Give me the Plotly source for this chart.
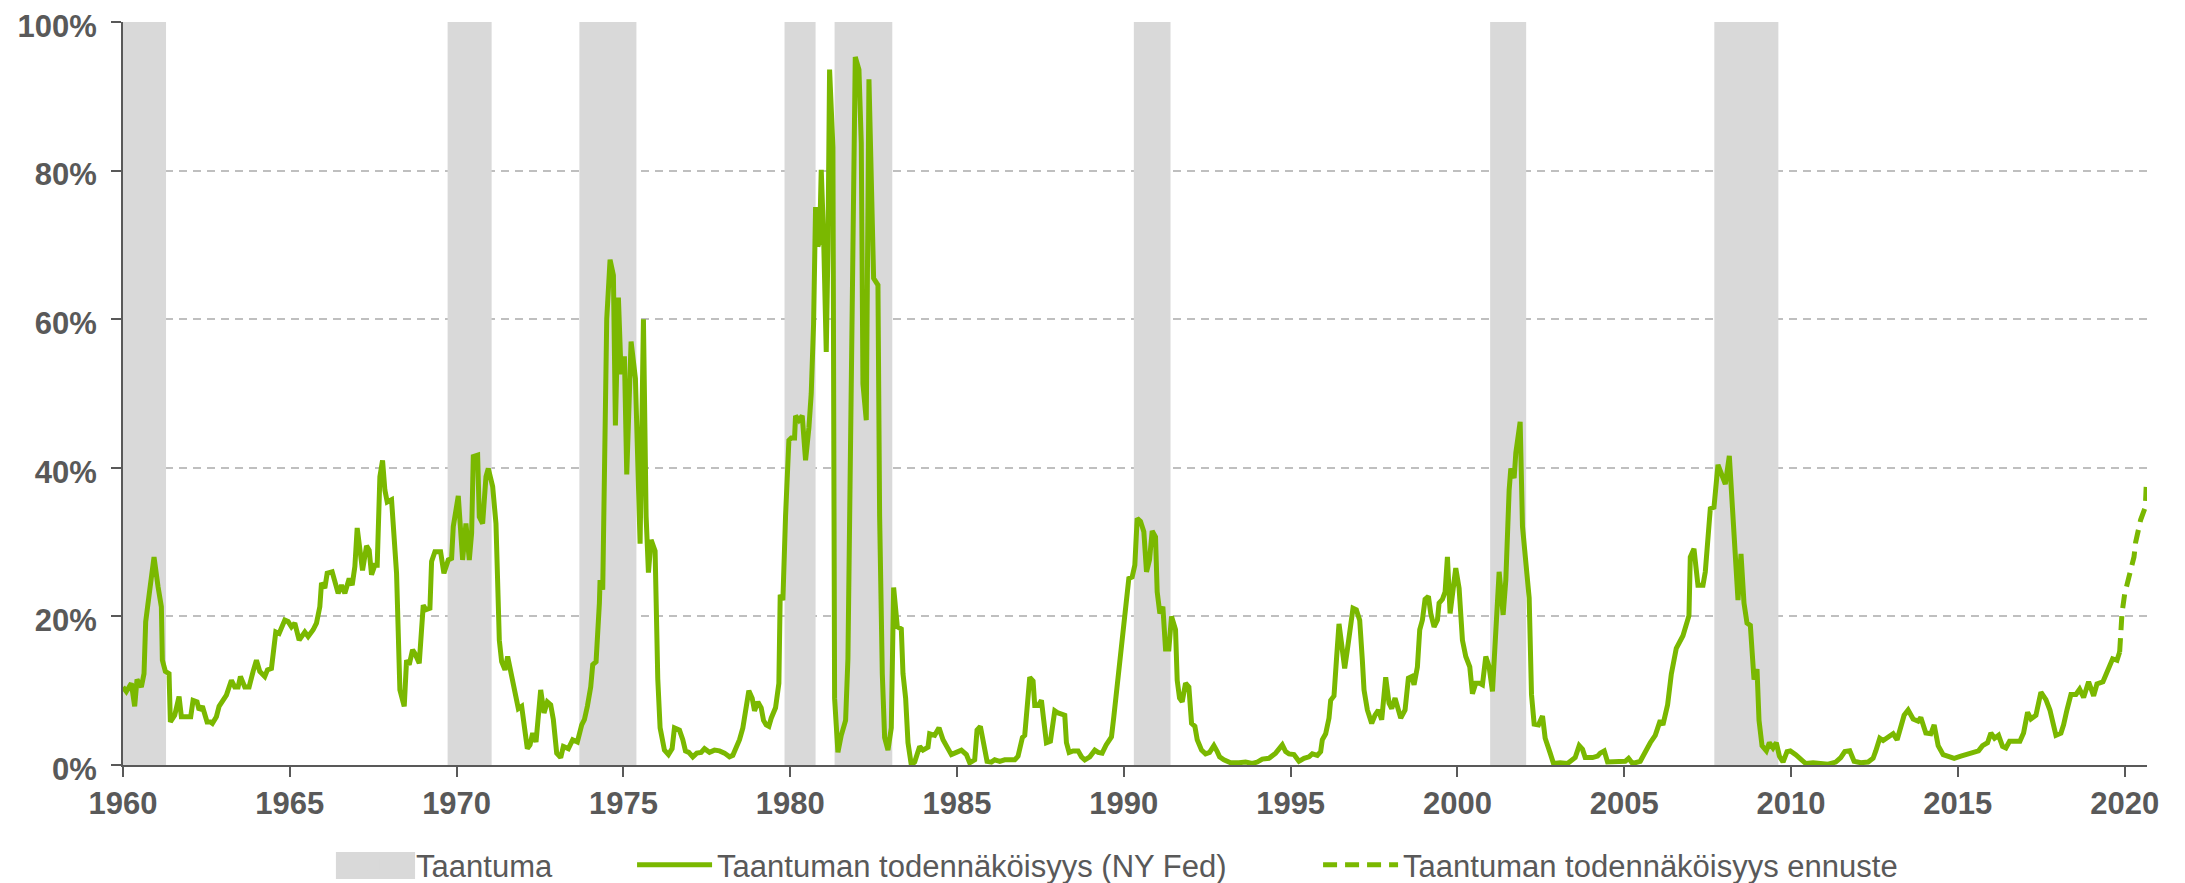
import plotly.graph_objects as go

# ---------------- data ----------------
prob_year = [
    1960.00, 1960.10, 1960.25, 1960.35, 1960.42, 1960.55, 1960.63, 1960.68, 1960.80, 1960.93,
    1961.05, 1961.15, 1961.18, 1961.27, 1961.38, 1961.42, 1961.55, 1961.68, 1961.75, 1961.90,
    1962.03, 1962.10, 1962.22, 1962.28, 1962.38, 1962.52, 1962.62, 1962.68, 1962.80, 1962.88,
    1963.02, 1963.10, 1963.25, 1963.35, 1963.45, 1963.52, 1963.65, 1963.78, 1963.90, 1964.00,
    1964.10, 1964.25, 1964.33, 1964.45, 1964.58, 1964.68, 1964.85, 1964.95, 1965.05, 1965.15,
    1965.28, 1965.45, 1965.55, 1965.70, 1965.80, 1965.90, 1965.95, 1966.05, 1966.12, 1966.27,
    1966.45, 1966.55, 1966.65, 1966.78, 1966.87, 1966.95, 1967.02, 1967.10, 1967.18, 1967.30,
    1967.38, 1967.45, 1967.55, 1967.62, 1967.70, 1967.78, 1967.85, 1967.92, 1968.05, 1968.20,
    1968.30, 1968.43, 1968.50, 1968.58, 1968.68, 1968.75, 1968.88, 1969.00, 1969.08, 1969.20,
    1969.25, 1969.35, 1969.52, 1969.62, 1969.75, 1969.85, 1969.90, 1970.05, 1970.18, 1970.28,
    1970.38, 1970.45, 1970.50, 1970.63, 1970.68, 1970.78, 1970.88, 1970.95, 1971.08, 1971.18,
    1971.28, 1971.35, 1971.45, 1971.53, 1971.65, 1971.75, 1971.85, 1971.95, 1972.12, 1972.20,
    1972.28, 1972.38, 1972.52, 1972.62, 1972.72, 1972.82, 1972.90, 1973.00, 1973.12, 1973.20,
    1973.35, 1973.48, 1973.62, 1973.75, 1973.83, 1973.92, 1974.02, 1974.08, 1974.18, 1974.28,
    1974.30, 1974.38, 1974.43, 1974.50, 1974.60, 1974.70, 1974.76, 1974.85, 1974.93, 1975.03,
    1975.10, 1975.23, 1975.36, 1975.50, 1975.60, 1975.68, 1975.75, 1975.83, 1975.95, 1976.03,
    1976.10, 1976.23, 1976.35, 1976.46, 1976.53, 1976.68, 1976.78, 1976.86, 1976.96, 1977.08,
    1977.20, 1977.33, 1977.43, 1977.58, 1977.73, 1977.88, 1978.03, 1978.18, 1978.28, 1978.38,
    1978.48, 1978.58, 1978.68, 1978.76, 1978.86, 1978.93, 1979.03, 1979.13, 1979.20, 1979.28,
    1979.36, 1979.43, 1979.56, 1979.66, 1979.70, 1979.78, 1979.86, 1979.96, 1980.03, 1980.13,
    1980.16, 1980.26, 1980.36, 1980.46, 1980.56, 1980.63, 1980.70, 1980.76, 1980.83, 1980.88,
    1980.93, 1981.00, 1981.08, 1981.13, 1981.18, 1981.28, 1981.33, 1981.43, 1981.53, 1981.66,
    1981.73, 1981.80, 1981.88, 1981.95, 1982.06, 1982.13, 1982.18, 1982.28, 1982.36, 1982.43,
    1982.50, 1982.63, 1982.68, 1982.76, 1982.83, 1982.93, 1983.03, 1983.10, 1983.21, 1983.33,
    1983.38, 1983.46, 1983.53, 1983.63, 1983.73, 1983.88, 1983.98, 1984.13, 1984.18, 1984.33,
    1984.46, 1984.58, 1984.73, 1984.83, 1984.98, 1985.13, 1985.28, 1985.38, 1985.53, 1985.60,
    1985.70, 1985.80, 1985.90, 1986.03, 1986.13, 1986.28, 1986.43, 1986.58, 1986.73, 1986.83,
    1986.96, 1987.03, 1987.11, 1987.18, 1987.28, 1987.33, 1987.43, 1987.53, 1987.60, 1987.68,
    1987.80, 1987.93, 1988.03, 1988.13, 1988.23, 1988.28, 1988.36, 1988.48, 1988.63, 1988.73,
    1988.83, 1988.98, 1989.13, 1989.23, 1989.35, 1989.47, 1989.63, 1989.70, 1989.80, 1989.93,
    1990.05, 1990.15, 1990.25, 1990.33, 1990.40, 1990.50, 1990.60, 1990.68, 1990.77, 1990.85,
    1990.95, 1991.00, 1991.08, 1991.17, 1991.25, 1991.35, 1991.43, 1991.55, 1991.60, 1991.67,
    1991.75, 1991.85, 1991.95, 1992.03, 1992.13, 1992.20, 1992.33, 1992.45, 1992.57, 1992.70,
    1992.80, 1992.87, 1993.00, 1993.20, 1993.45, 1993.65, 1993.85, 1994.00, 1994.15, 1994.35,
    1994.55, 1994.65, 1994.75, 1994.85, 1994.95, 1995.10, 1995.25, 1995.40, 1995.55, 1995.65,
    1995.80, 1995.90, 1995.95, 1996.05, 1996.15, 1996.20, 1996.30, 1996.38, 1996.45, 1996.53,
    1996.62, 1996.70, 1996.80, 1996.87, 1996.97, 1997.07, 1997.15, 1997.20, 1997.30, 1997.43,
    1997.53, 1997.63, 1997.73, 1997.85, 1997.95, 1998.03, 1998.13, 1998.22, 1998.30, 1998.43,
    1998.53, 1998.63, 1998.70, 1998.80, 1998.87, 1998.95, 1999.03, 1999.13, 1999.20, 1999.30,
    1999.40, 1999.45, 1999.55, 1999.63, 1999.70, 1999.78, 1999.87, 1999.95, 2000.05, 2000.15,
    2000.25, 2000.37, 2000.45, 2000.55, 2000.67, 2000.75, 2000.85, 2000.95, 2001.05, 2001.15,
    2001.25, 2001.37, 2001.45, 2001.55, 2001.60, 2001.70, 2001.75, 2001.88, 2001.95, 2002.15,
    2002.22, 2002.30, 2002.43, 2002.55, 2002.63, 2002.78, 2002.88, 2003.08, 2003.30, 2003.53,
    2003.65, 2003.75, 2003.83, 2004.05, 2004.20, 2004.28, 2004.40, 2004.50, 2004.80, 2005.03,
    2005.13, 2005.25, 2005.48, 2005.63, 2005.78, 2005.93, 2006.08, 2006.16, 2006.30, 2006.41,
    2006.56, 2006.76, 2006.94, 2006.98, 2007.09, 2007.21, 2007.36, 2007.43, 2007.58, 2007.69,
    2007.81, 2007.93, 2008.03, 2008.15, 2008.29, 2008.41, 2008.50, 2008.59, 2008.68, 2008.78,
    2008.89, 2008.98, 2009.04, 2009.13, 2009.26, 2009.35, 2009.46, 2009.56, 2009.65, 2009.76,
    2009.88, 2009.98, 2010.14, 2010.29, 2010.44, 2010.66, 2010.89, 2011.11, 2011.34, 2011.49,
    2011.61, 2011.76, 2011.89, 2012.09, 2012.31, 2012.46, 2012.54, 2012.66, 2012.76, 2012.91,
    2013.06, 2013.18, 2013.29, 2013.39, 2013.51, 2013.66, 2013.81, 2013.89, 2014.04, 2014.19,
    2014.29, 2014.41, 2014.56, 2014.71, 2014.89, 2015.09, 2015.24, 2015.47, 2015.62, 2015.74,
    2015.89, 2015.99, 2016.10, 2016.22, 2016.34, 2016.44, 2016.55, 2016.67, 2016.79, 2016.86,
    2016.97, 2017.09, 2017.19, 2017.34, 2017.49, 2017.64, 2017.76, 2017.94, 2018.09, 2018.17,
    2018.27, 2018.39, 2018.54, 2018.65, 2018.77, 2018.92, 2019.07, 2019.17, 2019.35, 2019.52,
    2019.64, 2019.77, 2019.85,
]
prob_pct = [
    10.5, 9.9, 11.0, 7.9, 11.5, 10.5, 12.3, 19.3, 23.5, 28.0,
    24.0, 21.3, 14.1, 12.6, 12.3, 5.8, 6.7, 9.2, 6.5, 6.5,
    6.5, 8.7, 8.5, 7.4, 7.9, 5.8, 5.8, 5.6, 6.5, 7.9,
    9.0, 9.4, 11.4, 10.5, 10.5, 11.9, 10.5, 10.5, 12.6, 14.1,
    12.6, 11.9, 12.8, 13.0, 17.9, 17.7, 19.5, 19.3, 18.6, 19.1,
    16.8, 17.9, 17.3, 18.2, 19.1, 21.3, 24.5, 23.8, 25.8, 26.0,
    23.1, 24.2, 23.1, 25.1, 24.2, 26.7, 31.9, 29.4, 26.2, 29.5,
    28.9, 25.6, 26.9, 26.9, 38.8, 41.0, 37.0, 35.4, 35.7, 25.8,
    10.1, 7.9, 14.1, 13.5, 15.5, 15.0, 13.7, 21.5, 20.9, 21.1,
    27.4, 28.7, 28.7, 25.8, 27.6, 27.8, 32.1, 36.2, 27.6, 32.5,
    27.6, 31.2, 41.5, 41.7, 33.4, 32.5, 38.8, 39.9, 37.5, 32.5,
    16.8, 13.9, 12.8, 14.6, 11.9, 9.6, 7.6, 7.9, 2.2, 2.7,
    4.3, 3.1, 10.1, 7.0, 8.5, 8.1, 6.1, 1.6, 1.0, 2.5,
    2.2, 3.4, 3.1, 5.4, 6.1, 7.9, 10.5, 13.5, 13.9, 21.8,
    24.9, 23.6, 43.0, 60.0, 68.0, 65.9, 45.7, 62.9, 52.6, 55.0,
    39.1, 57.0, 52.0, 29.8, 60.0, 33.5, 25.9, 30.3, 28.8, 11.6,
    5.0, 2.0, 1.4, 2.2, 5.0, 4.7, 3.4, 1.9, 1.7, 1.1,
    1.6, 1.7, 2.2, 1.7, 2.0, 1.9, 1.6, 1.1, 1.3, 2.4,
    3.4, 5.0, 8.0, 10.0, 9.0, 7.3, 8.5, 7.7, 6.0, 5.4,
    5.2, 6.3, 7.7, 11.0, 22.9, 22.2, 33.5, 43.7, 44.0, 44.0,
    47.0, 46.4, 47.0, 41.0, 45.4, 50.0, 59.3, 75.1, 69.8, 70.5,
    80.1, 71.2, 55.6, 69.2, 93.6, 83.1, 9.0, 1.7, 4.0, 6.0,
    14.3, 40.0, 73.0, 95.3, 93.6, 83.7, 51.3, 46.4, 92.3, 77.8,
    65.5, 64.6, 33.5, 12.3, 3.7, 2.0, 5.0, 23.9, 18.6, 18.3,
    12.3, 9.0, 3.0, 0.0, 0.4, 2.5, 2.0, 2.4, 4.2, 4.0,
    5.0, 3.4, 2.2, 1.4, 1.7, 2.0, 1.4, 0.3, 0.7, 4.7,
    5.2, 2.4, 0.5, 0.4, 0.7, 0.5, 0.7, 0.7, 0.7, 1.2,
    3.7, 4.0, 8.0, 11.8, 11.3, 8.0, 8.0, 8.7, 6.0, 3.0,
    3.2, 7.3, 7.0, 6.9, 6.7, 3.0, 1.7, 1.9, 1.9, 1.1,
    0.7, 1.1, 2.0, 1.7, 1.6, 2.7, 3.8, 6.5, 10.5, 15.9,
    21.8, 25.1, 25.3, 26.9, 33.2, 32.8, 31.4, 26.0, 27.6, 31.5,
    30.7, 23.3, 20.4, 21.3, 15.6, 15.6, 20.0, 18.2, 11.4, 9.0,
    8.5, 11.0, 10.5, 5.6, 5.2, 3.4, 2.0, 1.5, 1.7, 2.6,
    1.8, 1.1, 0.7, 0.3, 0.3, 0.4, 0.2, 0.4, 0.8, 0.9,
    1.6, 2.2, 2.7, 1.8, 1.5, 1.4, 0.5, 0.9, 1.1, 1.5,
    1.3, 1.8, 3.4, 4.2, 6.3, 8.7, 9.3, 14.6, 19.0, 16.2,
    13.0, 15.5, 18.6, 21.1, 20.9, 19.5, 14.1, 10.1, 7.4, 5.6,
    6.7, 7.4, 6.1, 11.8, 8.3, 7.6, 9.0, 7.2, 6.3, 7.4,
    11.7, 11.9, 10.8, 13.2, 18.2, 19.5, 22.3, 22.7, 20.4, 18.6,
    19.5, 21.8, 22.3, 23.3, 28.0, 20.4, 23.3, 26.5, 23.8, 16.8,
    14.6, 13.2, 9.6, 11.0, 11.0, 10.8, 14.6, 13.2, 9.9, 17.7,
    26.0, 20.2, 24.9, 37.0, 39.9, 38.6, 42.0, 46.2, 32.1, 22.5,
    9.5, 5.5, 5.4, 6.6, 3.6, 1.6, 0.2, 0.3, 0.2, 1.0,
    2.6, 2.1, 1.0, 1.0, 1.2, 1.6, 1.9, 0.4, 0.4, 0.5,
    0.9, 0.2, 0.5, 1.9, 3.0, 4.0, 6.0, 5.4, 8.1, 12.2,
    15.7, 17.4, 20.1, 28.0, 29.1, 24.2, 24.2, 26.0, 34.5, 34.7,
    40.4, 39.0, 37.8, 41.6, 32.1, 22.2, 28.4, 21.8, 19.1, 18.8,
    11.5, 12.9, 6.0, 2.6, 1.9, 3.0, 2.3, 3.0, 1.2, 0.4,
    1.8, 1.9, 1.4, 0.8, 0.2, 0.3, 0.2, 0.1, 0.4, 1.0,
    1.8, 1.9, 0.5, 0.3, 0.4, 0.9, 1.9, 3.6, 3.3, 3.8,
    4.2, 3.4, 5.0, 6.7, 7.4, 6.2, 5.9, 6.4, 4.3, 4.2,
    5.4, 2.6, 1.4, 1.2, 0.9, 1.2, 1.4, 1.8, 1.9, 2.6,
    3.0, 4.3, 3.6, 4.0, 2.5, 2.3, 3.2, 3.2, 3.3, 3.2,
    4.3, 7.1, 6.2, 6.7, 9.8, 8.8, 7.4, 4.0, 4.3, 5.4,
    7.4, 9.5, 9.5, 10.2, 9.1, 11.2, 9.3, 10.9, 11.2, 13.3,
    14.3, 14.1, 15.2,
]

forecast_year = [2019.85, 2019.92, 2020.00, 2020.10, 2020.18, 2020.28, 2020.33, 2020.43, 2020.48, 2020.62, 2020.65]
forecast_pct = [15.2, 20.4, 23.0, 25.0, 26.7, 28.0, 30.0, 32.0, 33.0, 34.7, 38.0]

recession_start = [1960.00, 1969.73, 1973.68, 1979.83, 1981.33, 1990.30, 2000.98, 2007.70]
recession_end = [1961.29, 1971.05, 1975.39, 1980.76, 1983.06, 1991.40, 2002.06, 2009.62]

x_ticks = [1960, 1965, 1970, 1975, 1980, 1985, 1990, 1995, 2000, 2005, 2010, 2015, 2020]
y_ticks = [0, 20, 40, 60, 80, 100]

names = ["Taantuma", "Taantuman todennäköisyys (NY Fed)", "Taantuman todennäköisyys ennuste"]

# ---------------- style ----------------
GREEN = "#7AB800"
GREY_BAR = "#D9D9D9"
TEXT = "#595959"
FONT = "Liberation Sans, Arial, sans-serif"

rec_mid = [(s + e) / 2 for s, e in zip(recession_start, recession_end)]
rec_w = [e - s for s, e in zip(recession_start, recession_end)]

fig = go.Figure()
fig.add_trace(go.Bar(
    x=rec_mid, y=[100] * len(rec_mid), width=rec_w,
    marker=dict(color=GREY_BAR, line=dict(width=0)),
    name=names[0], legendwidth=211, hoverinfo="skip",
))
fig.add_trace(go.Scatter(
    x=prob_year, y=prob_pct, mode="lines",
    line=dict(color=GREEN, width=5),
    name=names[1], legendwidth=596,
))
fig.add_trace(go.Scatter(
    x=forecast_year, y=forecast_pct, mode="lines",
    line=dict(color=GREEN, width=5, dash="14px,8px"),
    name=names[2],
))

# larger key swatch behind the legend's recession symbol (same grey)
fig.add_shape(
    type="rect", xref="paper", yref="paper",
    x0=0.1052, x1=0.1443, y0=-0.1534, y1=-0.1171,
    fillcolor=GREY_BAR, line=dict(width=0), layer="above",
)

# page body adds an 8px offset; margins compensate so the plot area
# lands at x 123..2147, y 22..765 of the 2185x883 window
fig.update_layout(
    width=2177, height=875,
    margin=dict(l=115, r=38, t=14, b=118, autoexpand=False),
    plot_bgcolor="white", paper_bgcolor="white",
    font=dict(family=FONT, color=TEXT),
    barmode="overlay",
    showlegend=True,
    legend=dict(
        orientation="h", x=0.1028, xanchor="left", y=-0.1346, yanchor="middle",
        font=dict(size=31, color=TEXT, family=FONT),
        itemwidth=75, bgcolor="rgba(0,0,0,0)", borderwidth=0,
        entrywidthmode="pixels",
    ),
    xaxis=dict(
        range=[1960, 2020.67], tickmode="array", tickvals=x_ticks,
        ticktext=[str(t) for t in x_ticks], automargin=False,
        ticklabeloverflow="allow",
        showgrid=False, zeroline=False,
        showline=True, linecolor=TEXT, linewidth=2,
        ticks="outside", ticklen=10, tickwidth=2, tickcolor=TEXT,
        tickfont=dict(size=31, color=TEXT, family=FONT, weight="bold"),
    ),
    yaxis=dict(
        range=[0, 100], tickmode="array", tickvals=y_ticks,
        ticktext=[f"{t}%" for t in y_ticks], automargin=False,
        ticklabeloverflow="allow",
        showgrid=True, gridcolor="#BFBFBF", gridwidth=2, griddash="8px,6px",
        zeroline=False,
        showline=True, linecolor=TEXT, linewidth=2,
        ticks="outside", ticklen=10, tickwidth=2, tickcolor=TEXT,
        ticklabelstandoff=8, ticklabelshift=4,
        tickfont=dict(size=31, color=TEXT, family=FONT, weight="bold"),
    ),
)

fig.write_html("out.html")
